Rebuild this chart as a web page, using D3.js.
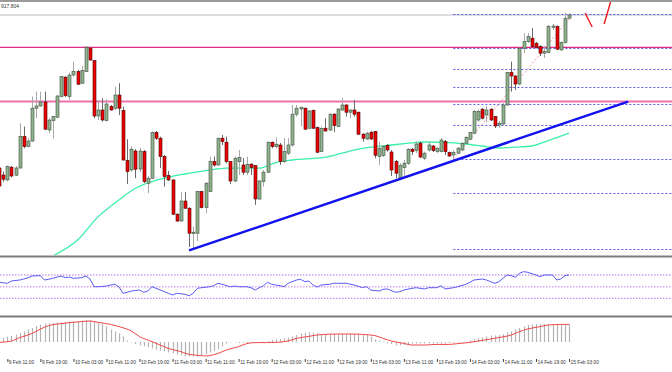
<!DOCTYPE html>
<html>
<head>
<meta charset="utf-8">
<script src="https://cdn.jsdelivr.net/npm/d3@7"></script>
<style>
  body { margin: 0; background: #fff; }
  svg { display: block; font-family: "Liberation Sans", Arial, sans-serif; }
</style>
</head>
<body>
<svg id="chart" width="672" height="372"></svg>
<script>
// hourly bars, first one is 9 Feb 09:00 (cut off at the left edge)
const opens = [836,832.5,830,836.4,832.4,836,851.7,846.7,849.5,865.9,867,869,855,859.7,861.4,871.7,881.4,871.7,882.5,884.2,878.4,884.2,895.9,889.7,862,865,859.7,866.7,865.9,872.5,864.7,839.7,835,844.5,835.5,844.2,828.4,830.9,853.7,850.9,841.7,832.3,830,812.9,809.5,819.5,815.9,803.2,803.4,824.2,816.2,824.2,839.2,837.5,850.9,848.9,839.2,829.5,839.2,837.5,833.9,837.9,837.2,820.5,829.2,833.9,848.9,846.7,847.5,839.2,843.4,847.5,862.9,865.5,865.9,855.9,864.8,856.2,844.2,855.9,855,862.9,856.7,865,867.5,863.9,865,863.9,852.9,850.5,853.9,854.2,841.7,842.2,847.3,844,839.2,831,836.2,838.4,845.4,844.8,848.4,840.9,845,847,844.2,844.2,849.2,843.7,842.5,843.4,845,848.4,850.4,853.4,860,865.4,862.5,865.4,861.7,857.5,858,867.5,883.7,882,878,895.9,899.2,900.9,898.4,896.7,893.4,893.7,906.4,906.7,895,898.7,910.9];
const highs = [838.5,834.2,837.3,837,837,858.4,856.7,850.8,871.7,874.2,874.2,874.2,860.9,862,872.5,882,882,883.7,889.2,885,887,897,896.4,890,870,870.9,870.4,867.5,876.7,878.4,866.7,850.4,847,845.4,846,845,832,854.2,854.5,851.7,842.5,834.5,830.5,813.4,823.9,824,816.3,806.7,824.5,824.5,828.9,841.7,841.7,851.2,852.5,851.7,839.5,841.7,845,840.9,841.7,838.4,837.5,830,835,849.2,849.2,851.2,848.5,850.9,850.9,867.5,867.5,866.7,866.2,865,865.3,856.7,856.7,860.9,863.4,863.4,865.9,870.9,867.9,865.4,870,864.2,853.4,854.2,854.4,854.5,849.2,847.5,848,845,840,838.4,840,845.9,846,849.2,849.2,844.2,849,847.5,846.4,851,850,844.2,845,846.4,848.9,851.7,854.2,865,865.4,865.9,867,865.9,862,859.5,868.5,884,889.2,882.5,896.3,903.4,903.5,905.9,899,897.3,897,907.5,908,907.3,899.2,913.5,913.5];
const lows = [820,829.2,829.5,831.3,832,835.7,845.9,846.4,849.2,860.9,866.7,855,853.4,850.7,860.9,871.4,871.4,870,881.7,877.5,878,883.9,889.7,860.9,860,859.2,859.2,864.7,865,862.5,839.7,828,834.2,830.9,834,828.4,823.4,830.5,850,836,826.7,829.5,812.5,809,809.2,815.5,796.5,796,799.5,815.8,813.4,823.9,836.7,837.2,847.5,838.4,827.9,828.9,832.5,832.5,832.5,832.5,817.5,820,826.7,833.5,845.9,845.9,837.5,838.4,842.5,846.7,861.7,856.7,855,855.4,855.5,843.4,843.9,854.2,854.5,853.9,856.4,864.5,861.7,860.9,861.7,852.5,849.2,850,850,840.9,837.5,841.5,844.2,832,830.9,830,830.9,837.5,842.5,843.4,840.9,840,844.2,844,843.4,843.8,842.5,841.5,840,843,844.5,847.9,850,853,859.2,860.3,859,859.5,856,856,857.5,867,874.2,875,877.5,893.4,898.5,896.4,895.8,892,891,893.3,905,895,894.7,898.3,910.5];
const closes = [827,830.4,836.7,832,836,851.7,846.7,849.5,865.9,867,869,855.4,860,861.7,872,881.7,872.2,882.5,884.2,877.9,884.7,896.4,890,862,865,860,868,865,872.5,865.9,840,834.2,845.4,835.4,844.5,829.2,830.9,853.7,850.9,841.7,831.7,830,812.9,809.5,819.5,815.9,803.4,803.9,824.2,816.2,828.4,839.2,837.5,850.9,849.2,839.2,829.5,840.9,841.2,833.9,837.9,836.2,820.5,829.5,833.9,848.9,846.7,847.9,839.2,844.2,847.5,862.9,865.9,866.4,855.4,864.5,855.9,843.9,855.8,854.5,862.9,857.2,865.5,867.5,863.9,865,862.9,852.9,850.9,853.4,850.5,842.4,845.9,846.7,845,835,833.4,837.2,838.4,845.4,844.2,848,841.5,843.4,847.5,844.7,845.9,850,844.2,842,843.7,845.9,848.4,851.4,853.7,864.2,864.2,860.9,865,860,857,858.4,867.5,883.7,882,878,895.9,899.2,901.7,896.7,896.4,893.4,894.2,906.7,907,895.4,898.7,910.9,912.5];

// moving average, read at a few bars
const maIdx = [13,19,24,29,33,37,41,45,50,55,63,67,71,79,83,87,91,95,99,103,109,113,117,121,125,129,133,138];
const maVals = [792,800,811.7,820,825.9,829.2,831.4,833,834.7,835.9,835.9,838.7,840,841.4,843.4,845.4,846.7,847.5,848.4,849,848.7,848,847,846,846.4,847,849.7,853.4];

// RSI
const rsiIdx = [0,2,3,5,6,7,8,10,11,12,13,15,16,17,18,20,21,22,23,24,26,27,28,29,30,31,32,34,35,36,37,38,40,41,42,43,45,46,47,48,49,51,52,53,54,56,57,58,60,61,62,63,64,65,66,68,69,70,72,73,74,75,76,77,78,80,81,82,84,86,88,89,90,92,93,94,96,97,98,100,101,103,104,106,107,108,110,111,113,114,115,117,118,119,120,121,122,123,124,125,126,127,128,130,131,132,134,135,136,137,138];
const rsiVals = [57.5,55.8,59.7,61.4,63.1,65.4,68.3,68.8,61.4,62.6,64.3,68.3,65.4,66.6,64.3,65.4,68.3,63.1,49.9,49.9,51.1,52.8,54,49.9,38.6,40.3,42.5,44.2,40.3,42.5,49.9,47.2,41.4,38.6,35.7,38.6,36.9,34.5,38.6,47.2,48.2,49.9,51.6,55.8,54,49.9,51.1,49.9,49.9,48.2,44.2,48.2,51.6,57.5,54,51.6,49.9,55.8,61.4,62.6,58.5,59.7,52.8,49.4,52.8,54,55.8,55.8,55.8,52.8,48.2,49.9,44.2,42.5,45.5,46,40.3,41.4,44.2,47.2,48.2,46,48.2,48.2,51.6,46,48.2,49.9,54,57.5,61.4,63.1,61.4,58.5,55.8,58.5,64.3,70,68.8,66,72.9,75.7,74.6,70,67.1,70,70,61.4,63.1,68.8,70];
const rsiLevels = [70, 50, 30];

// MACD histogram (one per bar) and signal line
const macdHist = [1.8,2.2,2.7,3.0,3.7,4.5,5.3,6.3,7.0,8.0,8.7,9.2,9.3,9.5,9.7,9.8,10.0,10.2,10.3,10.5,10.7,11.0,10.8,10.3,9.8,9.2,7.8,6.2,5.3,4.3,2.8,0.7,-0.2,-1.0,-1.7,-2.2,-2.5,-3.2,-3.8,-4.3,-4.7,-5.2,-5.7,-6.3,-6.7,-7.2,-7.3,-7.3,-7.3,-6.8,-6.2,-5.2,-4.5,-3.5,-2.2,-0.8,-0.3,-0.2,-0.5,-0.5,-0.5,-0.3,-0.5,-0.3,0.2,0.5,1.0,1.3,1.5,1.7,2.2,2.8,3.5,4.2,4.7,4.8,4.7,4.3,3.8,3.8,4.0,4.0,4.0,4.0,4.0,4.0,4.0,4.0,3.8,3.5,2.7,1.3,0.7,-0.2,-0.7,-1.0,-1.7,-1.7,-1.5,-1.2,-0.8,-0.7,-0.7,-0.7,-0.7,-0.7,-0.7,-0.7,-0.7,-0.5,-0.5,-0.3,-0.2,0.2,0.8,1.3,1.8,2.3,2.8,3.2,3.3,3.5,4.0,4.7,5.3,6.2,7.0,7.8,8.5,8.8,9.0,9.0,9.0,9.0,9.0,9.0,9.0,9.0,9.0];
const sigIdx = [0,3,5,8,10,12,15,17,20,22,24,27,29,32,34,37,39,41,44,46,49,50,53,55,58,60,62,65,67,70,72,75,77,79,82,85,88,91,93,95,98,100,103,106,109,111,114,116,119,121,124,126,128,131,133,136,138];
const sigVals = [-0.2,0.5,2.2,4.3,6.5,8.2,9.2,9.7,10.2,10.5,9.8,8.8,7.7,5.5,2.7,0.2,-1.5,-3.2,-4.8,-6.2,-6.8,-7.0,-5.7,-4.0,-2.3,-0.8,-0.3,-0.3,-0.2,0.5,1.8,2.8,3.5,3.8,4.0,4.0,3.8,3.2,1.8,0.5,-0.7,-1.5,-1.5,-1.2,-1.2,-0.8,-0.2,0.5,1.5,2.2,3.5,5.2,6.5,7.7,8.5,8.8,8.8];

// drawn objects
const resistLevels = [896.35, 869.5];
const bidPrice = 912.5;
const fibRatios = [0, 0.236, 0.382, 0.5, 0.618, 0.764, 1, 1.236, 1.618];
const fibLow = { idx: 110, price: 840.5 };
const fibHigh = { idx: 139, price: 913 };
const trendIdx = [46, 152.3];
const trendVals = [794.8, 869.2];
const arrowIdx = [[141.9, 143.6], [146.5, 148.2]];
const arrowVals = [[913.5, 906.5], [908, 920]];

const tickIdx = [2,10,18,26,34,42,50,58,66,74,82,90,98,106,114,122,130,138];
const tickLabels = ["9 Feb 11:00","9 Feb 19:00","10 Feb 03:00","10 Feb 11:00","10 Feb 19:00","11 Feb 03:00","11 Feb 11:00","11 Feb 19:00","12 Feb 03:00","12 Feb 11:00","12 Feb 19:00","13 Feb 03:00","13 Feb 11:00","13 Feb 19:00","14 Feb 03:00","14 Feb 11:00","14 Feb 19:00","15 Feb 03:00"];

const W = 672, H = 372;
const svg = d3.select("#chart");

const x = d3.scaleLinear().domain([0, 138]).range([-0.9, 569.04]);
const yMain = d3.scaleLinear().domain([792.5, 920]).range([255, 0]);
const yRsi = d3.scaleLinear().domain([0, 100]).range([315.8, 257.5]);
const yMacd = d3.scaleLinear().domain([-9, 12]).range([360, 318]);

const defs = svg.append("defs");
defs.append("clipPath").attr("id", "mainClip").append("rect").attr("x", 0).attr("y", 2).attr("width", W).attr("height", 253);
defs.append("clipPath").attr("id", "rsiClip").append("rect").attr("x", 0).attr("y", 258).attr("width", W).attr("height", 58);

// ---- main pane ----
const main = svg.append("g").attr("clip-path", "url(#mainClip)");

// bid line
main.append("line")
  .attr("x1", 0).attr("x2", W)
  .attr("y1", yMain(bidPrice)).attr("y2", yMain(bidPrice))
  .attr("stroke", "#b8bcc4").attr("stroke-width", 1);

// fibonacci levels
const fibRange = fibHigh.price - fibLow.price;
main.selectAll(".fib").data(fibRatios).join("line")
  .attr("x1", x(fibLow.idx)).attr("x2", W)
  .attr("y1", r => Math.round(yMain(fibHigh.price - r * fibRange)) + 0.5)
  .attr("y2", r => Math.round(yMain(fibHigh.price - r * fibRange)) + 0.5)
  .attr("stroke", "#5a5af0").attr("stroke-width", 1).attr("stroke-dasharray", "2,2");

main.append("line")
  .attr("x1", x(fibLow.idx)).attr("y1", yMain(fibLow.price))
  .attr("x2", x(fibHigh.idx)).attr("y2", yMain(fibHigh.price))
  .attr("stroke", "#f4a0a0").attr("stroke-width", 1).attr("stroke-dasharray", "2,2");

// horizontal resistance lines
main.append("line")
  .attr("x1", 0).attr("x2", W)
  .attr("y1", yMain(resistLevels[0])).attr("y2", yMain(resistLevels[0]))
  .attr("stroke", "#e02a84").attr("stroke-width", 1.2);
main.append("line")
  .attr("x1", 0).attr("x2", W)
  .attr("y1", yMain(resistLevels[1]) + 0.5).attr("y2", yMain(resistLevels[1]) + 0.5)
  .attr("stroke", "#f070b0").attr("stroke-width", 2);

// moving average
main.append("path")
  .datum(maIdx.map((d, k) => [d, maVals[k]]))
  .attr("fill", "none").attr("stroke", "#3cefa8").attr("stroke-width", 1.3)
  .attr("d", d3.line().x(d => x(d[0])).y(d => yMain(d[1])).curve(d3.curveMonotoneX));

// candles
const bars = d3.range(opens.length).map(i => ({ i, o: opens[i], h: highs[i], l: lows[i], c: closes[i] }));
const cg = main.append("g");
cg.selectAll(".wick").data(bars).join("line")
  .attr("x1", d => Math.round(x(d.i)) + 0.5).attr("x2", d => Math.round(x(d.i)) + 0.5)
  .attr("y1", d => yMain(d.h)).attr("y2", d => yMain(d.l))
  .attr("stroke", d => d.c >= d.o ? "#a8a8a8" : "#6a6a6a").attr("stroke-width", 1);
cg.selectAll(".body").data(bars).join("rect")
  .attr("x", d => Math.round(x(d.i)) - 1)
  .attr("width", 3)
  .attr("y", d => yMain(Math.max(d.o, d.c)))
  .attr("height", d => Math.max(1, Math.abs(yMain(d.o) - yMain(d.c))))
  .attr("fill", d => d.c >= d.o ? "#8fb48f" : "#ee0000")
  .attr("stroke", d => d.c >= d.o ? "#3f4f3f" : "#4a0000")
  .attr("stroke-width", 0.6);

// trend line
main.append("line")
  .attr("x1", x(trendIdx[0])).attr("y1", yMain(trendVals[0]))
  .attr("x2", x(trendIdx[1])).attr("y2", yMain(trendVals[1]))
  .attr("stroke", "#1212f0").attr("stroke-width", 2.4);

// projection strokes
arrowIdx.forEach((seg, k) => {
  main.append("line")
    .attr("x1", x(seg[0])).attr("y1", yMain(arrowVals[k][0]))
    .attr("x2", x(seg[1])).attr("y2", yMain(arrowVals[k][1]))
    .attr("stroke", "#ee1c1c").attr("stroke-width", 1.4);
});

// top border and price text
svg.append("line").attr("x1", 0).attr("x2", W).attr("y1", 1).attr("y2", 1)
  .attr("stroke", "#7a7a7a").attr("stroke-width", 1.5);
svg.append("text").attr("x", -1.5).attr("y", 7.5)
  .attr("font-size", 5).attr("fill", "#333")
  .text("l 917.804");

// ---- RSI pane ----
const rsi = svg.append("g").attr("clip-path", "url(#rsiClip)");
rsi.selectAll(".lvl").data(rsiLevels).join("line")
  .attr("x1", 0).attr("x2", W)
  .attr("y1", d => yRsi(d)).attr("y2", d => yRsi(d))
  .attr("stroke", d => d === 50 ? "#d6a8f0" : "#b070e8")
  .attr("stroke-width", d => d === 50 ? 1.5 : 1)
  .attr("stroke-dasharray", "1.5,1.5");
rsi.append("path")
  .datum(rsiIdx.map((d, k) => [d, rsiVals[k]]))
  .attr("fill", "none").attr("stroke", "#5a5af5").attr("stroke-width", 1)
  .attr("d", d3.line().x(d => x(d[0])).y(d => yRsi(d[1])));

// ---- MACD pane ----
const macd = svg.append("g");
macd.selectAll(".hist").data(macdHist).join("line")
  .attr("x1", (d, i) => Math.round(x(i)) + 0.5).attr("x2", (d, i) => Math.round(x(i)) + 0.5)
  .attr("y1", yMacd(0)).attr("y2", d => yMacd(d))
  .attr("stroke", "#b4b4b4").attr("stroke-width", 1.2);
macd.append("path")
  .datum(sigIdx.map((d, k) => [d, sigVals[k]]))
  .attr("fill", "none").attr("stroke", "#f04848").attr("stroke-width", 1)
  .attr("d", d3.line().x(d => x(d[0])).y(d => yMacd(d[1])).curve(d3.curveMonotoneX));

// pane separators
[256.5, 316.5].forEach(yy => {
  svg.append("line").attr("x1", 0).attr("x2", W).attr("y1", yy).attr("y2", yy)
    .attr("stroke", "#7c7c7c").attr("stroke-width", 2);
});

// ---- time axis ----
const xAxis = d3.axisBottom(x)
  .tickValues(tickIdx)
  .tickFormat((d, k) => tickLabels[k])
  .tickSize(3).tickSizeOuter(0);
const ax = svg.append("g").attr("transform", "translate(0,359)").call(xAxis);
ax.select(".domain").remove();
ax.selectAll(".tick line").attr("stroke", "#444");
ax.selectAll(".tick text")
  .attr("text-anchor", "start").attr("x", 1).attr("dy", "0.3em").attr("y", 4)
  .attr("font-size", 4.8).attr("font-family", "Liberation Sans, Arial, sans-serif").attr("fill", "#333");
</script>
</body>
</html>
